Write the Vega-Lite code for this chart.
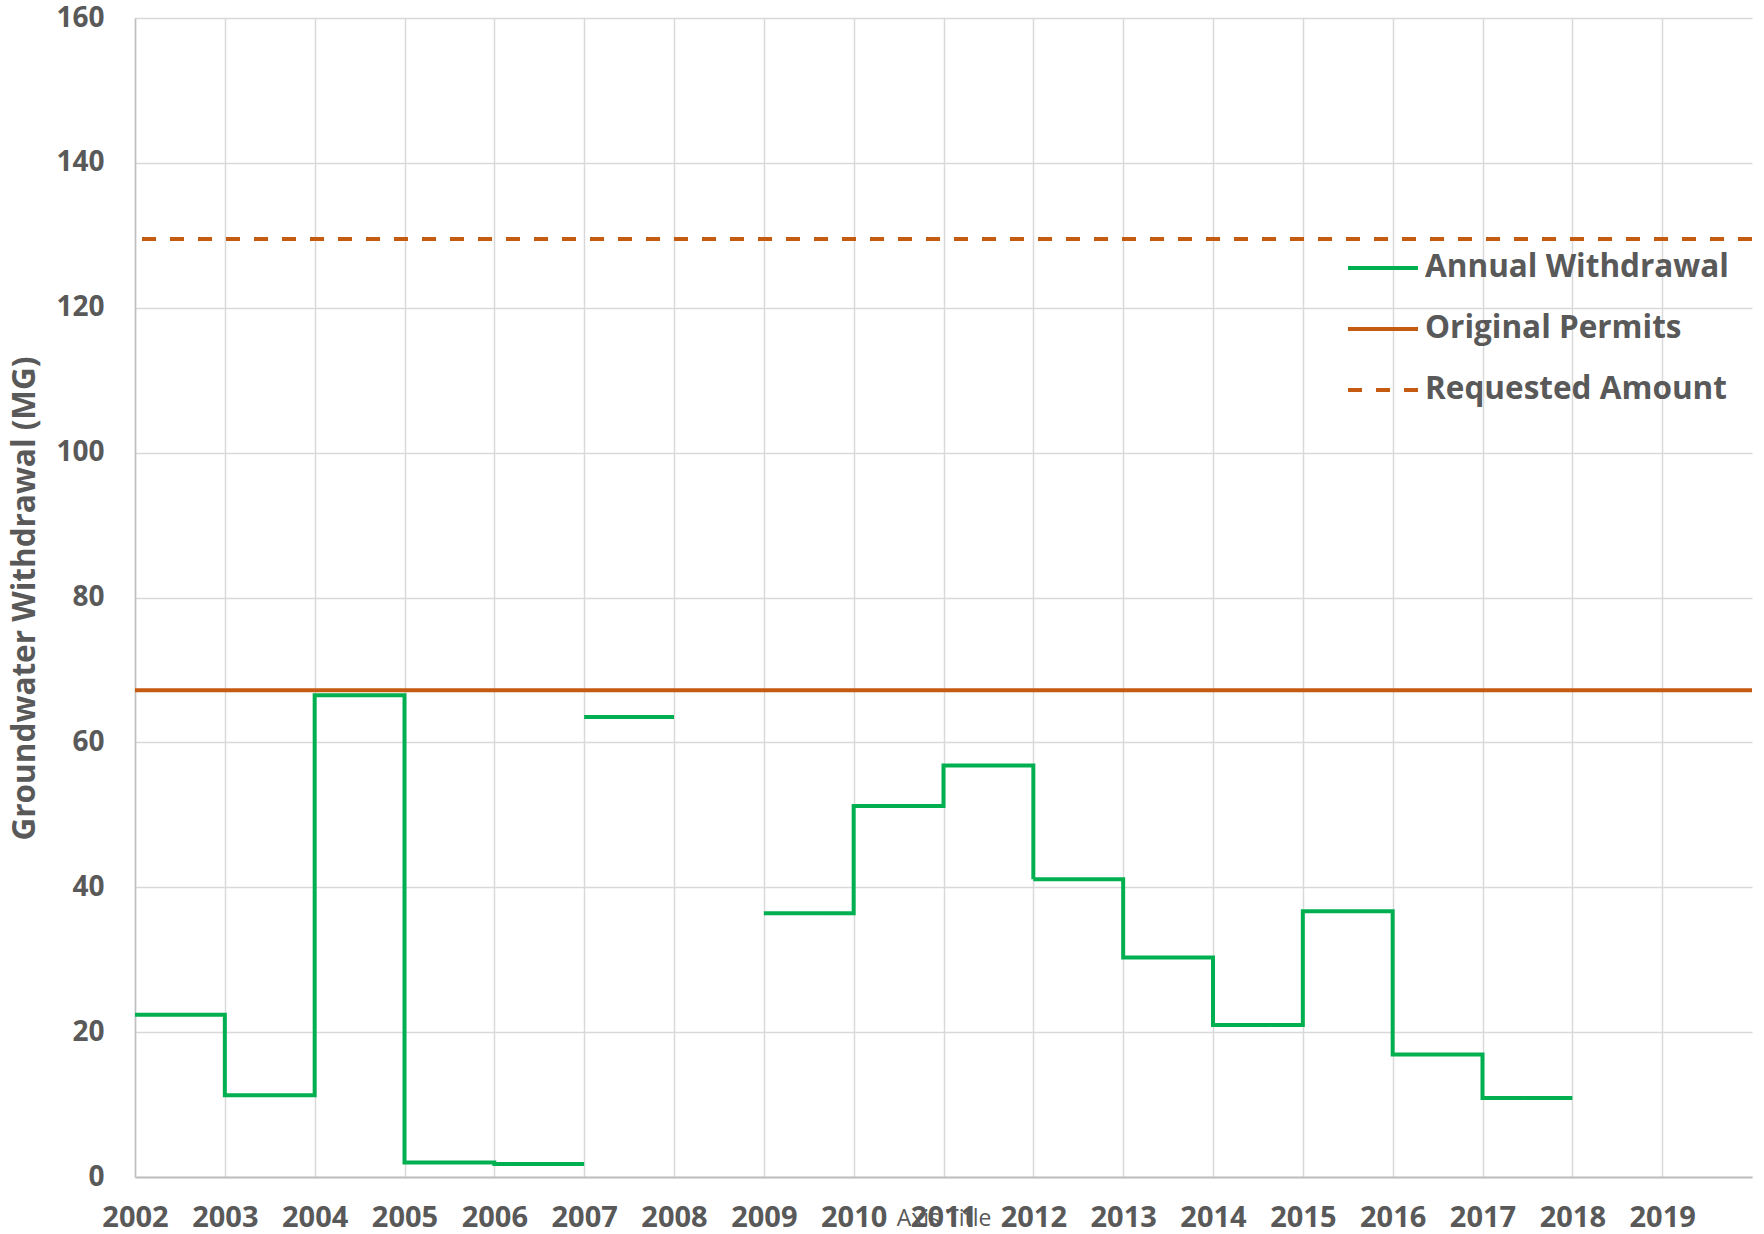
{
  "$schema": "https://vega.github.io/schema/vega-lite/v6.json",
  "autosize": "none",
  "width": 1617,
  "height": 1159,
  "padding": {"left": 135, "top": 18, "right": 12, "bottom": 57},
  "background": "white",
  "config": {
    "view": {"stroke": null},
    "font": "Open Sans"
  },
  "datasets": {
    "withdrawal": [
      {"year": 2002, "value": 22.4, "seg": "A", "series": "Annual Withdrawal"},
      {"year": 2003, "value": 11.3, "seg": "A", "series": "Annual Withdrawal"},
      {"year": 2004, "value": 66.5, "seg": "A", "series": "Annual Withdrawal"},
      {"year": 2005, "value": 2.0, "seg": "A", "series": "Annual Withdrawal"},
      {"year": 2006, "value": 1.8, "seg": "A", "series": "Annual Withdrawal"},
      {"year": 2007, "value": 1.8, "seg": "A", "series": "Annual Withdrawal"},
      {"year": 2007, "value": 63.5, "seg": "B", "series": "Annual Withdrawal"},
      {"year": 2008, "value": 63.5, "seg": "B", "series": "Annual Withdrawal"},
      {"year": 2009, "value": 36.4, "seg": "C", "series": "Annual Withdrawal"},
      {"year": 2010, "value": 51.2, "seg": "C", "series": "Annual Withdrawal"},
      {"year": 2011, "value": 56.8, "seg": "C", "series": "Annual Withdrawal"},
      {"year": 2012, "value": 41.1, "seg": "C", "series": "Annual Withdrawal"},
      {"year": 2013, "value": 30.3, "seg": "C", "series": "Annual Withdrawal"},
      {"year": 2014, "value": 21.0, "seg": "C", "series": "Annual Withdrawal"},
      {"year": 2015, "value": 36.7, "seg": "C", "series": "Annual Withdrawal"},
      {"year": 2016, "value": 16.9, "seg": "C", "series": "Annual Withdrawal"},
      {"year": 2017, "value": 10.9, "seg": "C", "series": "Annual Withdrawal"},
      {"year": 2018, "value": 10.9, "seg": "C", "series": "Annual Withdrawal"}
    ],
    "limits": [
      {"series": "Original Permits", "value": 67.2},
      {"series": "Requested Amount", "value": 129.5}
    ]
  },
  "layer": [
    {
      "data": {"name": "limits"},
      "mark": {"type": "rule", "strokeWidth": 4, "strokeCap": "butt"},
      "encoding": {
        "y": {"field": "value", "type": "quantitative", "scale": {"domain": [0, 160]}},
        "color": {"field": "series", "type": "nominal"},
        "strokeDash": {"field": "series", "type": "nominal"}
      }
    },
    {
      "data": {"name": "withdrawal"},
      "mark": {"type": "line", "interpolate": "step-after", "strokeWidth": 4, "strokeCap": "butt", "strokeJoin": "miter"},
      "encoding": {
        "x": {
          "field": "year", "type": "quantitative",
          "scale": {"domain": [2002, 2020], "nice": false, "zero": false},
          "axis": {
            "title": "Axis Title",
            "values": [2002, 2003, 2004, 2005, 2006, 2007, 2008, 2009, 2010, 2011, 2012, 2013, 2014, 2015, 2016, 2017, 2018, 2019],
            "format": "d",
            "ticks": false,
            "labelPadding": 49,
            "labelBaseline": "alphabetic",
            "labelFont": "Open Sans",
            "labelFontSize": 29,
            "labelFontWeight": "bold",
            "labelColor": "#595959",
            "labelFlush": false,
            "labelOverlap": false,
            "domainColor": "#bfbfbf",
            "domainWidth": 2,
            "gridColor": "#d9d9d9",
            "gridWidth": 1.5,
            "titleFont": "Open Sans",
            "titleFontSize": 23,
            "titleFontWeight": "normal",
            "titleColor": "#595959",
            "titleBaseline": "alphabetic",
            "titleY": 48
          }
        },
        "y": {
          "field": "value", "type": "quantitative",
          "scale": {"domain": [0, 160], "nice": false},
          "axis": {
            "title": "Groundwater Withdrawal (MG)",
            "values": [0, 20, 40, 60, 80, 100, 120, 140, 160],
            "ticks": false,
            "labelPadding": 31,
            "labelFont": "Open Sans",
            "labelFontSize": 28,
            "labelFontWeight": "bold",
            "labelColor": "#595959",
            "labelFlush": false,
            "domainColor": "#bfbfbf",
            "domainWidth": 1.5,
            "gridColor": "#d9d9d9",
            "gridWidth": 1.5,
            "titleFont": "Open Sans",
            "titleFontSize": 31.5,
            "titleFontWeight": "bold",
            "titleColor": "#595959",
            "titleAngle": -90,
            "titleBaseline": "middle",
            "titleAlign": "center",
            "titleX": -110,
            "titleY": 580
          }
        },
        "detail": {"field": "seg", "type": "nominal"},
        "color": {
          "field": "series", "type": "nominal",
          "scale": {
            "domain": ["Annual Withdrawal", "Original Permits", "Requested Amount"],
            "range": ["#00B050", "#C55A11", "#C55A11"]
          },
          "legend": {
            "title": null,
            "orient": "none",
            "legendX": 1211,
            "legendY": 213,
            "symbolType": "stroke",
            "symbolSize": 4900,
            "symbolStrokeWidth": 4,
            "labelFont": "Open Sans",
            "labelFontSize": 31.5,
            "labelFontWeight": "bold",
            "labelColor": "#595959",
            "labelOffset": 5,
            "labelLimit": 500,
            "rowPadding": 8,
            "padding": 0
          }
        },
        "strokeDash": {
          "field": "series", "type": "nominal",
          "scale": {
            "domain": ["Annual Withdrawal", "Original Permits", "Requested Amount"],
            "range": [[1, 0], [1, 0], [14, 14]]
          },
          "legend": {
            "title": null,
            "orient": "none",
            "legendX": 1211,
            "legendY": 213,
            "symbolType": "stroke",
            "symbolSize": 4900,
            "symbolStrokeWidth": 4,
            "labelFont": "Open Sans",
            "labelFontSize": 31.5,
            "labelFontWeight": "bold",
            "labelColor": "#595959",
            "labelOffset": 5,
            "labelLimit": 500,
            "rowPadding": 8,
            "padding": 0
          }
        }
      }
    }
  ]
}
